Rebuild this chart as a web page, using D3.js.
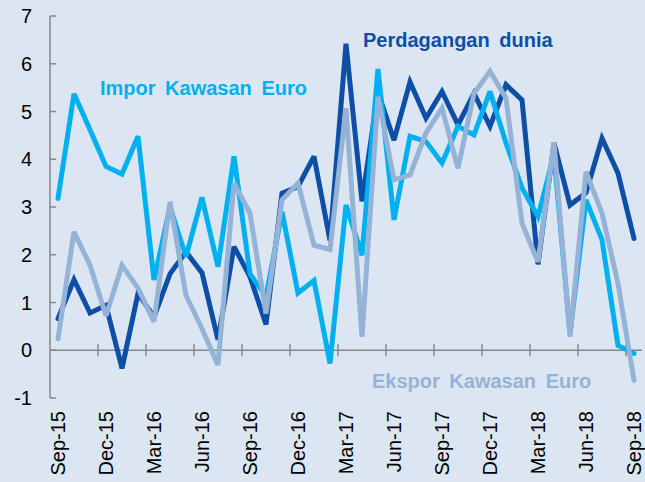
<!DOCTYPE html>
<html>
<head>
<meta charset="utf-8">
<script src="https://cdn.jsdelivr.net/npm/d3@7"></script>
<style>
  body { margin: 0; background: #dce6f2; }
  #plot1 { width: 645px; height: 482px; }
  text { font-family: "Liberation Sans", Arial, sans-serif; }
</style>
</head>
<body>
<div id="plot1"></div>
<script>
// months on the x axis
var months = ['Sep-15','Oct-15','Nov-15','Dec-15','Jan-16','Feb-16','Mar-16','Apr-16','May-16','Jun-16','Jul-16','Aug-16',
    'Sep-16','Oct-16','Nov-16','Dec-16','Jan-17','Feb-17','Mar-17','Apr-17','May-17','Jun-17','Jul-17','Aug-17',
    'Sep-17','Oct-17','Nov-17','Dec-17','Jan-18','Feb-18','Mar-18','Apr-18','May-18','Jun-18','Jul-18','Aug-18','Sep-18'];

// series values (%)
var perdagangan = [0.66,1.48,0.78,0.94,-0.38,1.19,0.7,1.6,2.06,1.62,0.22,2.17,
    1.54,0.54,3.29,3.43,4.06,2.3,6.42,3.12,5.4,4.4,5.62,4.86,
    5.42,4.72,5.38,4.69,5.56,5.24,1.8,4.34,3.04,3.3,4.44,3.71,2.34];
var impor = [3.18,5.37,4.62,3.85,3.69,4.48,1.47,3.0,1.96,3.2,1.75,4.06,
    1.6,1.12,2.9,1.2,1.46,-0.28,3.04,1.99,5.89,2.73,4.48,4.37,
    3.92,4.69,4.51,5.42,4.34,3.4,2.8,4.1,0.35,3.15,2.31,0.1,-0.07];
var ekspor = [0.24,2.48,1.78,0.72,1.78,1.3,0.6,3.11,1.15,0.45,-0.31,3.5,
    2.87,0.77,3.15,3.5,2.2,2.11,5.07,0.28,5.31,3.57,3.67,4.55,
    5.07,3.81,5.38,5.84,5.28,2.66,1.85,4.34,0.28,3.74,2.87,1.4,-0.63];

// y tick labels
var yTicks = [-1,0,1,2,3,4,5,6,7];

var W = 645, H = 482;
var x0 = 50, x1 = 642, yTop = 16, yBot = 398;

var svg = d3.select('#plot1').append('svg')
    .attr('width', W)
    .attr('height', H);

svg.append('rect').attr('width', W).attr('height', H).attr('fill', '#dce6f2');

// scales
var scaleX = d3.scaleBand().domain(months).range([x0, x1]);
var scaleY = d3.scaleLinear().domain([-1, 7]).range([yBot, yTop]);

var axisColor = '#878787';

// y axis line + ticks pointing inside
svg.append('line')
    .attr('x1', x0).attr('x2', x0)
    .attr('y1', scaleY(7)).attr('y2', scaleY(-1))
    .attr('stroke', axisColor).attr('stroke-width', 1.5);

svg.selectAll('.ytick')
    .data(yTicks)
    .enter()
    .append('line')
    .attr('class', 'ytick')
    .attr('x1', x0).attr('x2', x0 + 6)
    .attr('y1', function(d){return scaleY(d)})
    .attr('y2', function(d){return scaleY(d)})
    .attr('stroke', axisColor).attr('stroke-width', 1.5);

svg.selectAll('.ylabel')
    .data(yTicks)
    .enter()
    .append('text')
    .attr('class', 'ylabel')
    .attr('x', 32)
    .attr('y', function(d){return scaleY(d)})
    .attr('dy', '0.35em')
    .attr('text-anchor', 'end')
    .style('font-size', '20px')
    .style('fill', '#000')
    .text(function(d){return d});

// x axis at zero
svg.append('line')
    .attr('x1', x0).attr('x2', x1)
    .attr('y1', scaleY(0)).attr('y2', scaleY(0))
    .attr('stroke', axisColor).attr('stroke-width', 1.5);

// ticks between categories, every 3 months
var tickIdx = months.map(function(d, i){return i}).filter(function(i){return i > 0 && i % 3 === 0});
svg.selectAll('.xtick')
    .data(tickIdx)
    .enter()
    .append('line')
    .attr('class', 'xtick')
    .attr('x1', function(i){return scaleX(months[i])})
    .attr('x2', function(i){return scaleX(months[i])})
    .attr('y1', scaleY(0) - 6).attr('y2', scaleY(0) + 6)
    .attr('stroke', axisColor).attr('stroke-width', 1.5);

var labelMonths = months.filter(function(d, i){return i % 3 === 0});
svg.selectAll('.xlabel')
    .data(labelMonths)
    .enter()
    .append('text')
    .attr('class', 'xlabel')
    .attr('transform', function(d){return 'translate(' + (scaleX(d) + scaleX.bandwidth() / 2) + ',411) rotate(-90)'})
    .attr('dy', '0.35em')
    .attr('text-anchor', 'end')
    .style('font-size', '20px')
    .style('fill', '#000')
    .text(function(d){return d});

// lines
var line = d3.line()
    .x(function(d, i){return scaleX(months[i]) + scaleX.bandwidth() / 2})
    .y(function(d){return scaleY(d)});

var series = [
    {vals: perdagangan, color: '#0d4ea6'},
    {vals: impor, color: '#00b0f0'},
    {vals: ekspor, color: '#95b3d7'}
];

svg.selectAll('.series')
    .data(series)
    .enter()
    .append('path')
    .attr('class', 'series')
    .attr('d', function(d){return line(d.vals)})
    .attr('fill', 'none')
    .attr('stroke', function(d){return d.color})
    .attr('stroke-width', 5)
    .attr('stroke-linejoin', 'miter')
    .attr('stroke-miterlimit', 3)
    .attr('stroke-linecap', 'round');

// series labels
svg.append('text').attr('x', 100).attr('y', 95)
    .style('font-size', '20px').style('font-weight', 'bold').style('word-spacing', '4px')
    .style('fill', '#00b0f0').text('Impor Kawasan Euro');
svg.append('text').attr('x', 363).attr('y', 47)
    .style('font-size', '20px').style('font-weight', 'bold').style('word-spacing', '4px')
    .style('fill', '#0d4ea6').text('Perdagangan dunia');
svg.append('text').attr('x', 372).attr('y', 388)
    .style('font-size', '20px').style('font-weight', 'bold').style('word-spacing', '4px')
    .style('fill', '#95b3d7').text('Ekspor Kawasan Euro');
</script>
</body>
</html>
